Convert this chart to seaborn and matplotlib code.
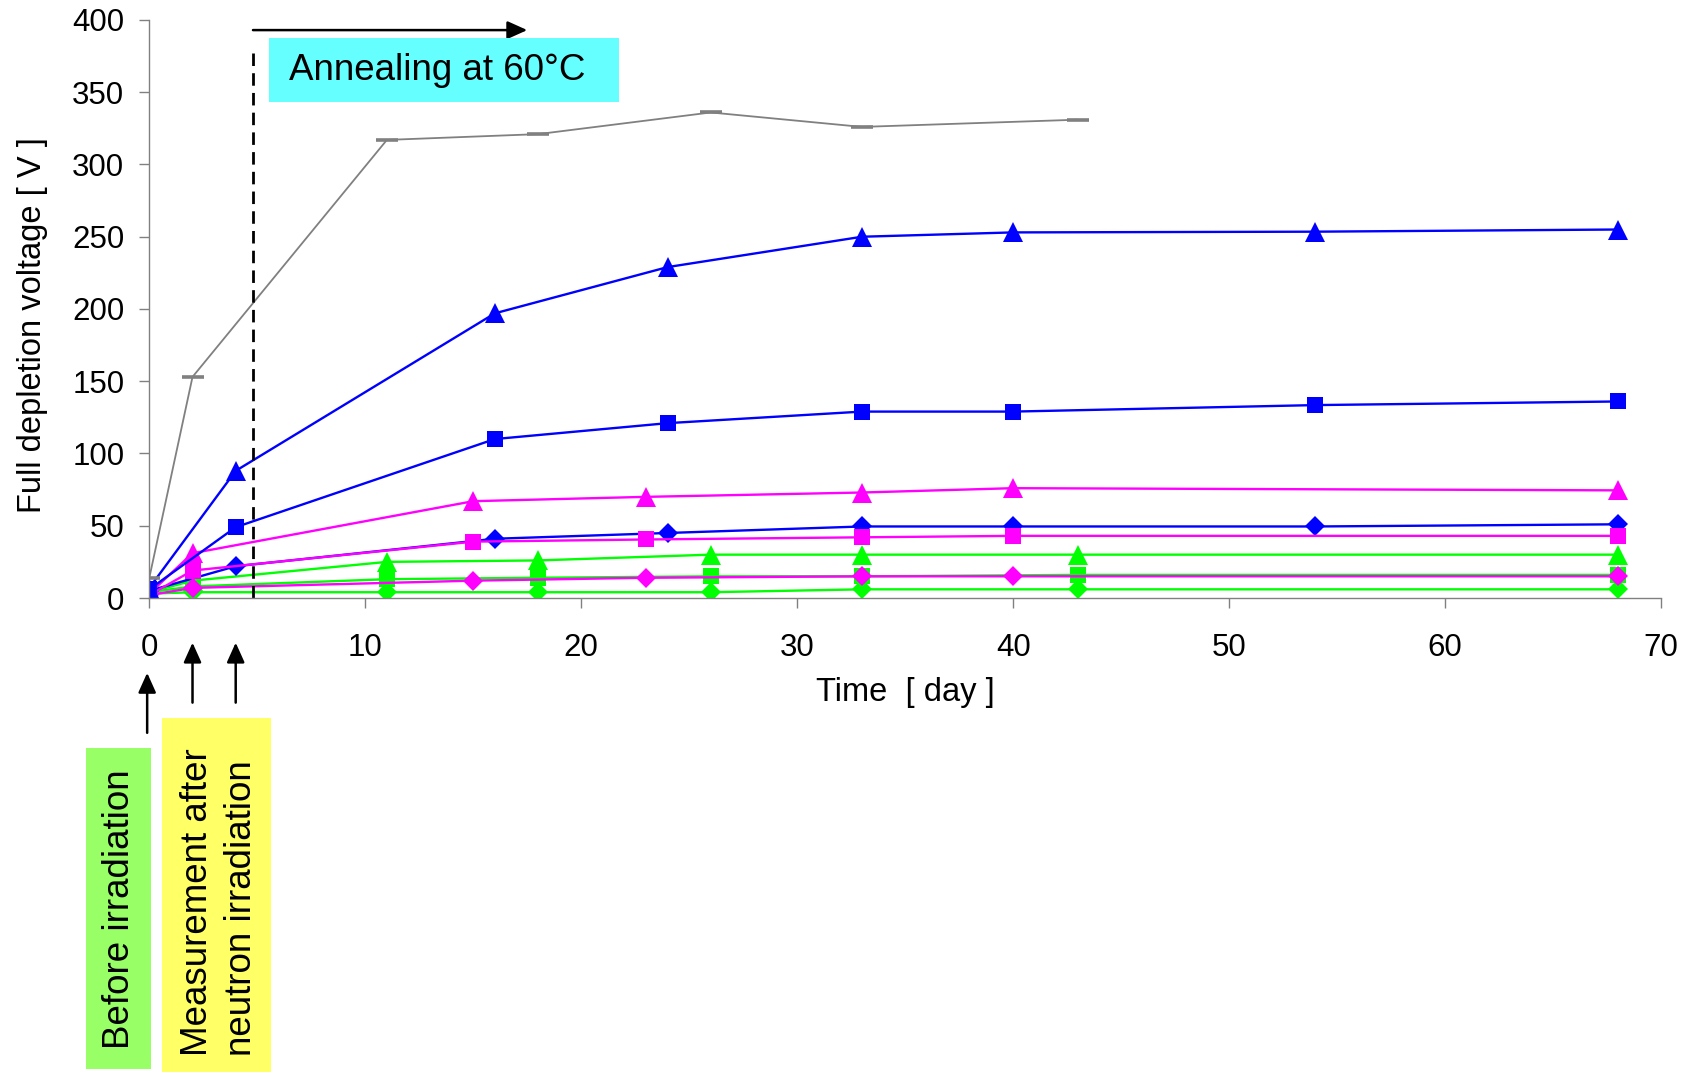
import matplotlib
matplotlib.use("Agg")
import matplotlib.pyplot as plt
from matplotlib.patches import Rectangle
import numpy as np
import pandas as pd
import seaborn as sns

# ---- measurement days for each sample group ----
days_gray = [0, 2, 11, 18, 26, 33, 43]
days_blue = [0, 4, 16, 24, 33, 40, 54, 68]
days_magenta = [0, 2, 15, 23, 33, 40, 68]
days_green = [0, 2, 11, 18, 26, 33, 43, 68]

# ---- full depletion voltage [V] ----
v_gray = [14, 153, 317, 321, 336, 326, 331]

v_blue_tri = [7, 88, 197, 229, 250, 253, 253.5, 255]
v_blue_sq = [6, 49, 110, 121, 129, 129, 133.5, 136]
v_blue_dia = [5, 22, 41, 45, 49.5, 49.5, 49.5, 51]

v_mag_tri = [3, 31, 67, 70, 73, 76, 74.5]
v_mag_sq = [2, 19, 39, 40.5, 42, 43, 43]
v_mag_dia = [2, 7, 12, 14, 15, 15, 15]

v_green_tri = [4, 12, 25, 26, 30, 30, 30, 30]
v_green_sq = [4, 8, 13, 14, 15, 15, 16, 16]
v_green_dia = [3, 4, 4, 4, 4, 6, 6, 6]

x_ticks = [0, 10, 20, 30, 40, 50, 60, 70]
y_ticks = [0, 50, 100, 150, 200, 250, 300, 350, 400]

BLUE, MAGENTA, GREEN, GRAY = "#0000FF", "#FF00FF", "#00FF00", "#808080"

# series drawn in this order (later ones on top)
series = [
    ("green diamond", days_green, v_green_dia, GREEN, "D", 10.5),
    ("green square", days_green, v_green_sq, GREEN, "s", 11.5),
    ("green triangle", days_green, v_green_tri, GREEN, "^", 14),
    ("blue diamond", days_blue, v_blue_dia, BLUE, "D", 10.5),
    ("magenta diamond", days_magenta, v_mag_dia, MAGENTA, "D", 10.5),
    ("magenta square", days_magenta, v_mag_sq, MAGENTA, "s", 11.5),
    ("magenta triangle", days_magenta, v_mag_tri, MAGENTA, "^", 14),
    ("blue square", days_blue, v_blue_sq, BLUE, "s", 11.5),
    ("blue triangle", days_blue, v_blue_tri, BLUE, "^", 14),
]

sns.set_style("white")
plt.rcParams["font.family"] = ["Liberation Sans", "DejaVu Sans"]
plt.rcParams["text.color"] = "black"
plt.rcParams["axes.labelcolor"] = "black"

fig = plt.figure(figsize=(16.93, 10.74), dpi=100)
ax = fig.add_axes([0.0882, 0.4432, 0.8929, 0.5382])

for name, xs, ys, col, mk, ms in series:
    df = pd.DataFrame({"day": xs, "voltage": ys})
    sns.lineplot(data=df, x="day", y="voltage", ax=ax, color=col, marker=mk,
                 markersize=ms, markeredgewidth=0, linewidth=1.7,
                 estimator=None, sort=False)

df_gray = pd.DataFrame({"day": days_gray, "voltage": v_gray})
sns.lineplot(data=df_gray, x="day", y="voltage", ax=ax, color=GRAY, marker="_",
             markersize=16, markeredgewidth=2.6, markeredgecolor=GRAY,
             linewidth=1.3, estimator=None, sort=False)

ax.set_xlim(0, 70)
ax.set_ylim(0, 400)
ax.set_xticks(x_ticks)
ax.set_yticks(y_ticks)
ax.tick_params(axis="both", which="major", direction="out", length=7, width=1,
               color="#808080", labelsize=22.5, labelcolor="black",
               bottom=True, left=True)
ax.tick_params(axis="x", pad=18)
ax.tick_params(axis="y", pad=11)
for side in ("top", "right"):
    ax.spines[side].set_visible(False)
for side in ("left", "bottom"):
    ax.spines[side].set_color("#808080")
    ax.spines[side].set_linewidth(1.0)
ax.grid(False)

ax.set_xlabel("Time  [ day ]", fontsize=23.5, color="black")
ax.set_ylabel("Full depletion voltage [ V ]", fontsize=23.5, color="black")
ax.xaxis.set_label_coords(0.5, -0.163)
ax.xaxis.label.set_va("center")
ax.yaxis.set_label_coords(-0.0776, 0.472)
ax.yaxis.label.set_va("center")

# start of annealing
ax.plot([4.8, 4.8], [0, 381], color="black", linewidth=2.0,
        linestyle=(0, (4.5, 2.6)), clip_on=False)
arrow_style = dict(arrowstyle="-|>,head_length=0.6,head_width=0.27",
                   mutation_scale=20, color="black", linewidth=1.8,
                   shrinkA=0, shrinkB=0)
ax.annotate("", xy=(17.5, 393), xytext=(4.8, 393),
            arrowprops=arrow_style, annotation_clip=False)
ax.add_patch(Rectangle((5.56, 343.0), 16.18, 44.5, facecolor="#66FFFF",
                       edgecolor="none", clip_on=False, zorder=3))
ax.text(6.47, 365, "Annealing at 60°C", fontsize=26.5, ha="left",
        va="center", color="black", zorder=4)

# measurement markers below the time axis
ax.annotate("", xy=(-0.1, -51.8), xytext=(-0.1, -93.3),
            arrowprops=arrow_style, annotation_clip=False)
for d in (2, 4):
    ax.annotate("", xy=(d, -30.9), xytext=(d, -72.4),
                arrowprops=arrow_style, annotation_clip=False)

ax.add_patch(Rectangle((-2.94, -326.2), 3.02, 222.7, facecolor="#99FF66",
                       edgecolor="none", clip_on=False))
ax.text(-1.36, -215, "Before irradiation", rotation=90, fontsize=26.5,
        ha="center", va="center", color="black", clip_on=False)

ax.add_patch(Rectangle((0.60, -328.3), 5.03, 245.6, facecolor="#FFFF66",
                       edgecolor="none", clip_on=False))
ax.text(3.25, -317, "Measurement after\nneutron irradiation", rotation=90,
        fontsize=26.5, ha="center", va="bottom", multialignment="left",
        linespacing=1.3, color="black", clip_on=False)

fig.savefig("out.png", dpi=100)
